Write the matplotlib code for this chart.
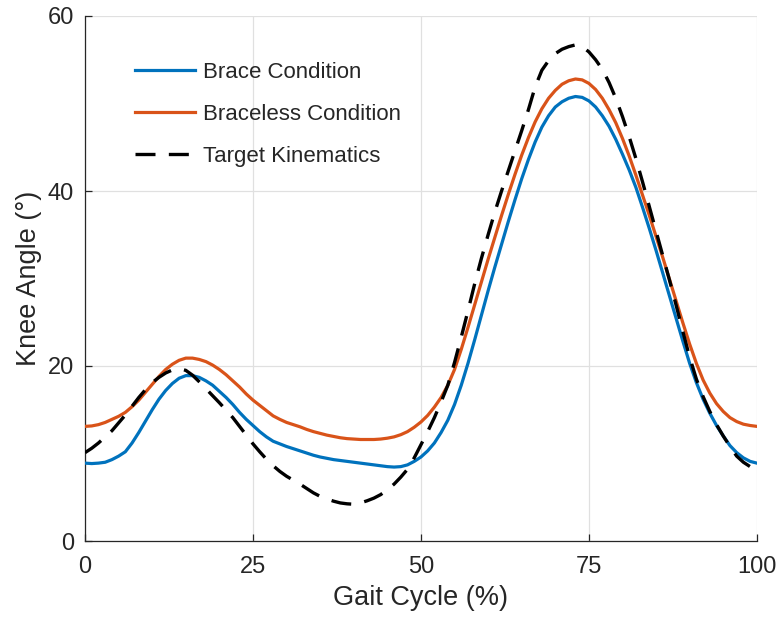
import matplotlib
matplotlib.use("Agg")
import matplotlib.pyplot as plt

gait_cycle = list(range(0, 101))

brace = [8.9, 8.85, 8.9, 9.0, 9.3, 9.7, 10.2, 11.2, 12.4, 13.7,
         15.0, 16.2, 17.2, 18.0, 18.6, 18.9, 18.9, 18.7, 18.3, 17.8,
         17.1, 16.4, 15.6, 14.7, 13.9, 13.2, 12.5, 11.9, 11.4, 11.1,
         10.8, 10.55, 10.3, 10.05, 9.8, 9.6, 9.45, 9.3, 9.2, 9.1,
         9.0, 8.9, 8.8, 8.7, 8.6, 8.5, 8.45, 8.5, 8.7, 9.1,
         9.6, 10.3, 11.2, 12.4, 13.8, 15.6, 17.8, 20.3, 23.0, 25.8,
         28.6, 31.3, 33.9, 36.5, 39.0, 41.4, 43.6, 45.6, 47.3, 48.6,
         49.6, 50.2, 50.6, 50.8, 50.7, 50.3, 49.6, 48.6, 47.4, 45.9,
         44.2, 42.4, 40.4, 38.1, 35.7, 33.2, 30.6, 28.0, 25.4, 22.8,
         20.3, 18.1, 16.2, 14.6, 13.2, 12.0, 10.9, 10.1, 9.5, 9.1, 8.9]

braceless = [13.1, 13.15, 13.3, 13.55, 13.9, 14.25, 14.7, 15.35, 16.1, 17.0,
             17.9, 18.8, 19.6, 20.2, 20.65, 20.9, 20.9, 20.75, 20.5, 20.1,
             19.6, 19.0, 18.3, 17.6, 16.8, 16.1, 15.5, 14.9, 14.3, 13.9,
             13.55, 13.3, 13.05, 12.75, 12.5, 12.3, 12.1, 11.95, 11.8, 11.7,
             11.65, 11.6, 11.6, 11.6, 11.65, 11.75, 11.9, 12.15, 12.5, 13.0,
             13.6, 14.35, 15.3, 16.4, 17.8, 19.6, 21.9, 24.4, 27.0, 29.6,
             32.2, 34.7, 37.2, 39.6, 41.9, 44.1, 46.1, 47.9, 49.4, 50.6,
             51.5, 52.2, 52.6, 52.8, 52.7, 52.3, 51.6, 50.6, 49.3, 47.8,
             46.0, 44.0, 41.8, 39.5, 37.2, 34.8, 32.4, 29.9, 27.4, 24.9,
             22.5, 20.3, 18.4, 16.9, 15.7, 14.8, 14.1, 13.65, 13.35, 13.2, 13.1]

target = [10.1, 10.6, 11.2, 11.9, 12.6, 13.5, 14.4, 15.4, 16.4, 17.3,
          18.1, 18.7, 19.2, 19.55, 19.7, 19.5, 18.95, 18.2, 17.4, 16.6,
          15.8, 14.95, 14.1, 13.1, 12.1, 11.1, 10.2, 9.35, 8.6, 7.95,
          7.4, 6.95, 6.5, 6.0, 5.5, 5.1, 4.8, 4.55, 4.35, 4.25,
          4.2, 4.35, 4.6, 4.9, 5.3, 5.85, 6.5, 7.3, 8.2, 9.5,
          11.0, 12.5, 14.1, 15.9, 17.8, 20.4, 23.3, 26.3, 29.4, 32.3,
          35.0, 37.6, 40.0, 42.3, 44.6, 46.9, 49.3, 51.9, 53.8, 54.9,
          55.7, 56.2, 56.5, 56.7, 56.5, 55.9, 55.0, 53.9, 52.4, 50.6,
          48.5, 46.2, 43.7, 41.0, 38.2, 35.4, 32.6, 29.8, 26.9, 23.9,
          21.0, 18.5, 16.5, 14.8, 13.3, 12.0, 10.8, 9.7, 9.0, 8.5, 8.1]

x_ticks = [0, 25, 50, 75, 100]
y_ticks = [0, 20, 40, 60]

plt.rcParams['font.family'] = ['Liberation Sans', 'DejaVu Sans']

fig = plt.figure(figsize=(7.83, 6.25), dpi=100)
ax = fig.add_axes([0.1086, 0.1344, 0.858, 0.84])

blue = (0.0, 0.447, 0.741)
orange = (0.85, 0.325, 0.098)
dark = (0.15, 0.15, 0.15)

ax.plot(gait_cycle, brace, color=blue, lw=2.3, label='Brace Condition', zorder=3)
ax.plot(gait_cycle, braceless, color=orange, lw=2.3, label='Braceless Condition', zorder=3)
ax.plot(gait_cycle, target, color='black', lw=2.4, dashes=(6, 4.0),
        label='Target Kinematics', zorder=4)

ax.set_xlim(0, 100)
ax.set_ylim(0, 60)
ax.set_xticks(x_ticks)
ax.set_yticks(y_ticks)
ax.grid(True, color=(0.88, 0.88, 0.88), lw=0.9)
ax.set_axisbelow(True)
for s in ['top', 'right']:
    ax.spines[s].set_visible(False)
for s in ['left', 'bottom']:
    ax.spines[s].set_color(dark)
    ax.spines[s].set_linewidth(0.9)
ax.tick_params(direction='in', length=5, width=0.9, colors=dark,
               labelsize=17, pad=8)
ax.tick_params(axis='x', pad=11)
ax.set_xlabel('Gait Cycle (%)', fontsize=19.5, color=dark, labelpad=5)
ax.set_ylabel('Knee Angle (°)', fontsize=19.5, color=dark, labelpad=4)

leg = ax.legend(loc='upper left', bbox_to_anchor=(0.045, 0.95), frameon=False,
                fontsize=16, handlelength=2.7, handletextpad=0.35, labelspacing=0.93)
for t in leg.get_texts():
    t.set_color(dark)

fig.savefig('out.png', dpi=100)
